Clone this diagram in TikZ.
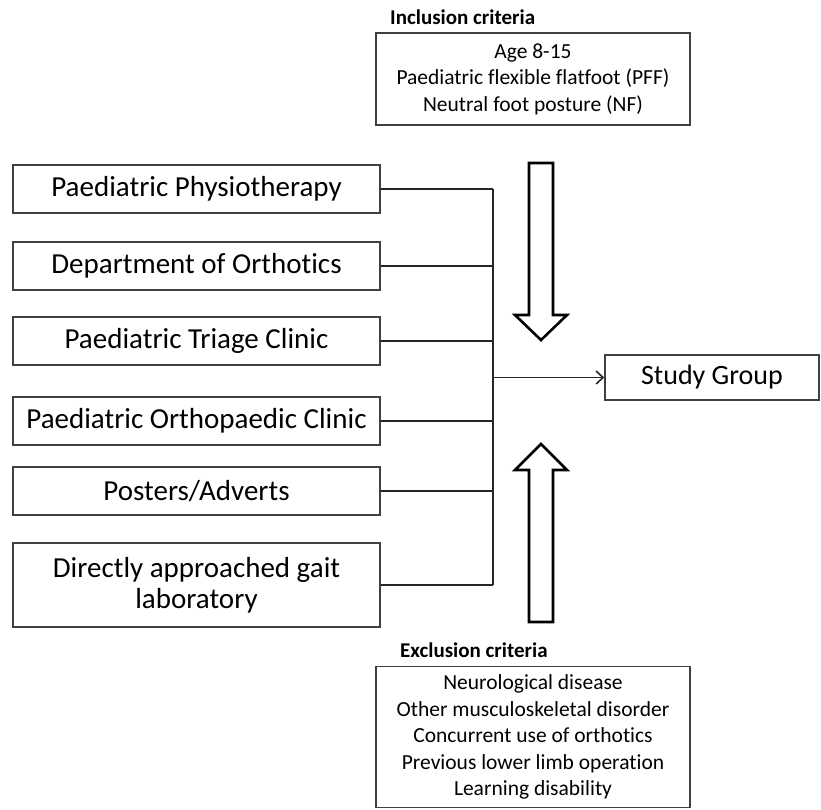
\documentclass[tikz,border=0pt]{standalone}
\usepackage{fontspec}
\setmainfont{Carlito}[Ligatures={NoCommon,NoRare,NoContextual}]
\usetikzlibrary{arrows.meta}
\tikzset{
  srcbox/.style={draw=black!75, line width=1.5pt, minimum width=367pt, minimum height=48pt, inner sep=0pt, align=center, font=\fontsize{29}{31}\selectfont},
  critbox/.style={draw=black!75, line width=1.5pt, minimum width=314pt, inner sep=0pt, align=center, font=\fontsize{21.5}{26.5}\selectfont},
  crittitle/.style={anchor=west, inner sep=0pt, font=\bfseries\fontsize{21}{24}\selectfont},
  conn/.style={draw=black!85, line width=1.6pt},
  blockarrow/.style={draw=black, line width=2.6pt, fill=white, line join=miter}
}
\begin{document}
\begin{tikzpicture}[x=1pt,y=-1pt]
\useasboundingbox (0,0) rectangle (821,809);
% source boxes
\node[srcbox] (b1) at (196.5,189) {Paediatric Physiotherapy};
\node[srcbox] (b2) at (196.5,266) {Department of Orthotics};
\node[srcbox] (b3) at (196.5,341) {Paediatric Triage Clinic};
\node[srcbox] (b4) at (196.5,421) {Paediatric Orthopaedic Clinic};
\node[srcbox] (b5) at (196.5,491) {Posters/Adverts};
\node[srcbox, minimum height=84pt] (b6) at (196.5,585) {Directly approached gait\\laboratory};
% study group
\node[srcbox, minimum width=214pt, minimum height=45pt, font=\fontsize{28}{30}\selectfont] (sg) at (712,377.5) {Study Group};
% criteria
\node[crittitle] (it) at (390,17) {Inclusion criteria};
\node[critbox, minimum height=92pt] (ib) at (533,79) {Age 8-15\\Paediatric flexible flatfoot (PFF)\\Neutral foot posture (NF)};
\node[crittitle] (et) at (400,650) {Exclusion criteria};
\node[critbox, minimum height=141pt] (eb) at (533,737) {Neurological disease\\Other musculoskeletal disorder\\Concurrent use of orthotics\\Previous lower limb operation\\Learning disability};
% trunk
\coordinate (j) at (493,377.5);
\draw[conn] (b1.east -| j) -- (b6.east -| j);
\foreach \b in {b1,b2,b3,b4,b5,b6} \draw[conn] (\b.east) -- (\b.east -| j);
\draw[conn, -{Straight Barb[length=7pt,width=13pt]}] (j) -- (sg.west);
% block arrows
\draw[blockarrow] (529,163) -- (553,163) -- (553,315) -- (567,315) -- (541,340) -- (515,315) -- (529,315) -- cycle;
\draw[blockarrow] (529,622) -- (553,622) -- (553,470) -- (567,470) -- (541,444) -- (515,470) -- (529,470) -- cycle;
\end{tikzpicture}
\end{document}
